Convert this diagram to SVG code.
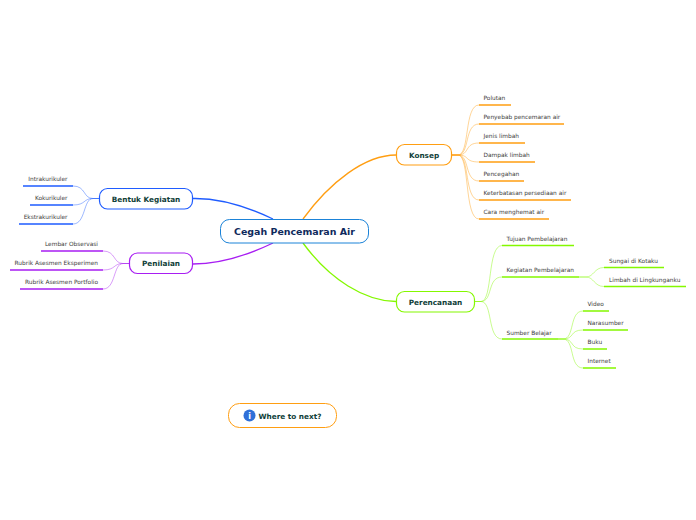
<svg xmlns="http://www.w3.org/2000/svg" width="696" height="520" viewBox="0 0 696 520">
<style>
text{font-family:"DejaVu Sans",Verdana,sans-serif}
.leaf{font-size:5.85px;fill:#3c3c3c}
.main{font-size:7.3px;font-weight:bold;fill:#0f4038;text-anchor:middle}
.box{fill:#fff;stroke-width:1.2}
.c{fill:none}
.th{stroke-width:1.3}
.tn{stroke-width:.8;stroke-opacity:.55}
.u{stroke-width:1.7;fill:none}
.o{stroke:#ff9e12}.g{stroke:#84f800}.b{stroke:#1f5cff}.p{stroke:#a81ef2}
</style>
<g id="connectors" class="c">
<path class="th o" d="M303 219C330 182 365 155 396 155"/>
<path class="th g" d="M303 243C330 280 365 301 396 301.500"/>
<path class="th b" d="M273 219C250 208 220 198 193 198.500"/>
<path class="th p" d="M273 243C250 254 220 264 193 264"/>
<g class="tn o">
<path d="M452 155H458C470 155 464 105 479 105"/><path d="M452 155H458C470 155 464 124 479 124"/><path d="M452 155H458C470 155 464 143 479 143"/><path d="M452 155H458C470 155 464 162 479 162"/><path d="M452 155H458C470 155 464 181 479 181"/><path d="M452 155H458C470 155 464 200 479 200"/><path d="M452 155H458C470 155 464 219 479 219"/>
</g>
<g class="tn g">
<path d="M475 301.500H481C493 301.500 487 245.500 502 245.500"/><path d="M475 301.500H481C493 301.500 487 277 502 277"/><path d="M475 301.500H481C493 301.500 487 339 502 339"/>
<path d="M579 277H586C594 277 594 267.500 604 267.500"/><path d="M579 277H586C594 277 594 286.500 604 286.500"/>
<path d="M558 339H563C575 339 569 311 583 311"/><path d="M558 339H563C575 339 569 330 583 330"/><path d="M558 339H563C575 339 569 349 583 349"/><path d="M558 339H563C575 339 569 368 583 368"/>
</g>
<g class="tn b">
<path d="M99 198.500H93C83 198.500 86 186 73 186"/><path d="M99 198.500H93C83 198.500 86 205 73 205"/><path d="M99 198.500H93C83 198.500 86 224 73 224"/>
</g>
<g class="tn p">
<path d="M129 263.500H123C113 263.500 116 251 103 251"/><path d="M129 263.500H123C113 263.500 116 270 103 270"/><path d="M129 263.500H123C113 263.500 116 289 103 289"/>
</g>
</g>
<g id="root"><rect x="220.500" y="219.500" width="148" height="23.500" rx="9" fill="#fff" stroke="#1b83d8" stroke-width="1"/><text x="294.500" y="235" text-anchor="middle" font-size="9.450" font-weight="bold" fill="#0f2a5c">Cegah Pencemaran Air</text></g>
<g id="konsep"><rect class="box o" x="396.500" y="144.500" width="55" height="20.500" rx="8"/><text class="main" x="424" y="158">Konsep</text></g>
<g id="perencanaan"><rect class="box g" x="396.500" y="291.500" width="78" height="20.500" rx="8"/><text class="main" x="435.500" y="304.500">Perencanaan</text></g>
<g id="bentuk"><rect class="box b" x="99.500" y="188.500" width="93" height="20.500" rx="8"/><text class="main" x="146" y="201.500">Bentuk Kegiatan</text></g>
<g id="penilaian"><rect class="box p" x="129.500" y="253" width="63" height="20.500" rx="8"/><text class="main" x="161" y="266">Penilaian</text></g>
<g id="konsep-leaves">
<path class="u o" d="M479 105H511M479 124H564M479 143H525M479 162H535M479 181H524M479 200H571M479 219H549"/>
<text class="leaf" x="483.500" y="100">Polutan</text><text class="leaf" x="483.500" y="119">Penyebab pencemaran air</text><text class="leaf" x="483.500" y="138">Jenis limbah</text><text class="leaf" x="483.500" y="157">Dampak limbah</text><text class="leaf" x="483.500" y="176">Pencegahan</text><text class="leaf" x="483.500" y="195">Keterbatasan persediaan air</text><text class="leaf" x="483.500" y="214">Cara menghemat air</text>
</g>
<g id="perencanaan-leaves">
<path class="u g" d="M502 245.500H574M502 277H579M502 339H558M604 267.500H664M604 286.500H686M583 311H609M583 330H628M583 349H607M583 368H616"/>
<text class="leaf" x="506.500" y="241">Tujuan Pembelajaran</text><text class="leaf" x="506.500" y="272">Kegiatan Pembelajaran</text><text class="leaf" x="506.500" y="335">Sumber Belajar</text><text class="leaf" x="609" y="263">Sungai di Kotaku</text><text class="leaf" x="609" y="282">Limbah di Lingkunganku</text><text class="leaf" x="587.500" y="306">Video</text><text class="leaf" x="587.500" y="325">Narasumber</text><text class="leaf" x="587.500" y="344">Buku</text><text class="leaf" x="587.500" y="363">Internet</text>
</g>
<g id="bentuk-leaves">
<path class="u b" d="M23 186H73M30 205H73M19 224H73"/>
<text class="leaf" x="67.500" y="181" text-anchor="end">Intrakurikuler</text><text class="leaf" x="67.500" y="200" text-anchor="end">Kokurikuler</text><text class="leaf" x="67.500" y="219" text-anchor="end">Ekstrakurikuler</text>
</g>
<g id="penilaian-leaves">
<path class="u p" d="M41 251H103M10 270H103M20 289H103"/>
<text class="leaf" x="98" y="246" text-anchor="end">Lembar Observasi</text><text class="leaf" x="98" y="265" text-anchor="end">Rubrik Asesmen Eksperimen</text><text class="leaf" x="98" y="284" text-anchor="end">Rubrik Asesmen Portfolio</text>
</g>
<g id="where-next"><rect x="228.500" y="403.500" width="108" height="24" rx="11" fill="#fff" stroke="#ff9e12" stroke-width="1"/><circle cx="249.500" cy="415.500" r="6" fill="#2f6fd8"/><text x="249.500" y="418.500" text-anchor="middle" font-size="8" font-weight="bold" fill="#fff">i</text><text x="258.500" y="418.500" font-size="7.300" font-weight="bold" fill="#0f4038">Where to next?</text></g>
</svg>
